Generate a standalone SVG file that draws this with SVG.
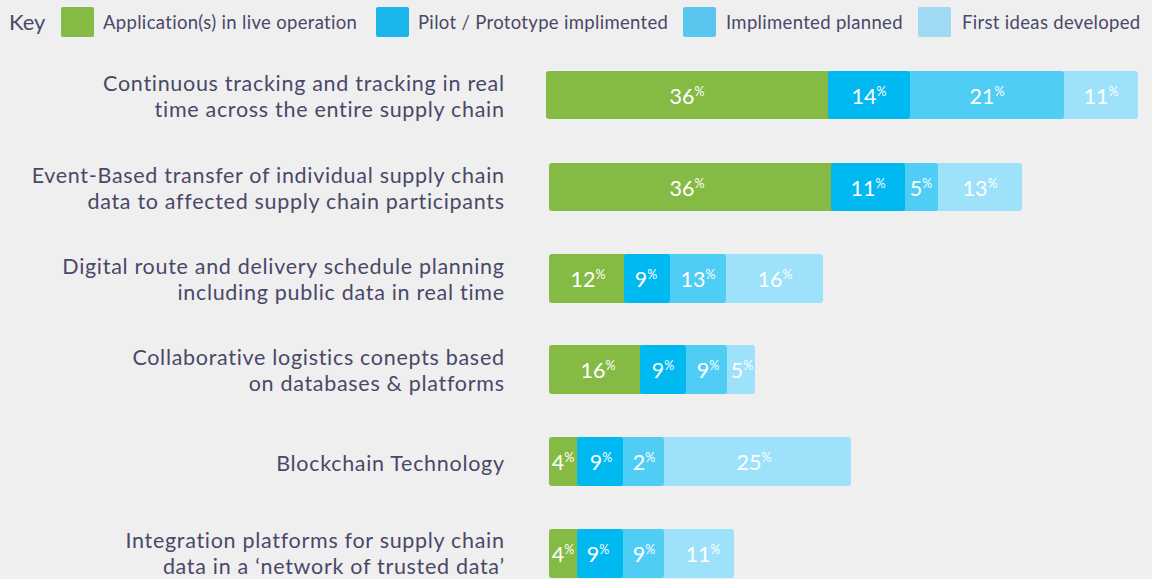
<svg xmlns="http://www.w3.org/2000/svg" width="1152" height="579" viewBox="0 0 1152 579">
<style>
.lbl{font-family:Lato,"Open Sans",sans-serif;font-size:21.5px;letter-spacing:0.7px;fill:#4a4868;text-anchor:end}
.key{font-family:Lato,"Open Sans",sans-serif;font-size:18.5px;letter-spacing:0.32px;fill:#4a4868}
.pct{font-family:Lato,"Open Sans",sans-serif;font-size:21.5px;fill:#ffffff;text-anchor:middle}
.sup{font-size:12.5px}
.g{fill:#85bb45}.b{fill:#00b9f1}.m{fill:#4fcdf5}.l{fill:#9de2fa}
.kg{fill:#86bc45}.kb{fill:#1ab5eb}.km{fill:#58c6ee}.kl{fill:#a0d9f3}
</style>
<rect width="1152" height="579" fill="#efefef"/>
<g id="key">
<text class="key" x="9" y="30" style="font-size:22px;letter-spacing:0">Key</text>
<rect class="kg" x="61" y="7" width="33" height="30" rx="2"/>
<text class="key" x="103" y="29">Application(s) in live operation</text>
<rect class="kb" x="376" y="7" width="33" height="30" rx="2"/>
<text class="key" x="418" y="29">Pilot / Prototype implimented</text>
<rect class="km" x="683" y="7" width="33" height="30" rx="2"/>
<text class="key" x="726" y="29">Implimented planned</text>
<rect class="kl" x="918" y="7" width="33" height="30" rx="2"/>
<text class="key" x="962" y="29">First ideas developed</text>
</g>
<g id="row1">
<text class="lbl" x="504.7" y="91">Continuous tracking and tracking in real</text>
<text class="lbl" x="504.7" y="117">time across the entire supply chain</text>
<rect class="l" x="1060" y="71" width="78" height="48" rx="3"/>
<rect class="m" x="900" y="71" width="164" height="48" rx="3"/>
<rect class="g" x="546" y="71" width="290" height="48" rx="3"/>
<rect class="b" x="828" y="71" width="82" height="48" rx="3"/>
<text class="pct" x="687" y="104">36<tspan class="sup" dy="-8">%</tspan></text>
<text class="pct" x="869" y="104">14<tspan class="sup" dy="-8">%</tspan></text>
<text class="pct" x="987" y="104">21<tspan class="sup" dy="-8">%</tspan></text>
<text class="pct" x="1101" y="104">11<tspan class="sup" dy="-8">%</tspan></text>
</g>
<g id="row2">
<text class="lbl" x="504.7" y="183">Event-Based transfer of individual supply chain</text>
<text class="lbl" x="504.7" y="209">data to affected supply chain participants</text>
<rect class="l" x="934" y="163" width="88" height="48" rx="3"/>
<rect class="m" x="895" y="163" width="43" height="48" rx="3"/>
<rect class="g" x="549" y="163" width="290" height="48" rx="3"/>
<rect class="b" x="831" y="163" width="74" height="48" rx="3"/>
<text class="pct" x="687" y="196">36<tspan class="sup" dy="-8">%</tspan></text>
<text class="pct" x="868" y="196">11<tspan class="sup" dy="-8">%</tspan></text>
<text class="pct" x="921" y="196">5<tspan class="sup" dy="-8">%</tspan></text>
<text class="pct" x="980" y="196">13<tspan class="sup" dy="-8">%</tspan></text>
</g>
<g id="row3">
<text class="lbl" x="504.7" y="274">Digital route and delivery schedule planning</text>
<text class="lbl" x="504.7" y="300">including public data in real time</text>
<rect class="l" x="722" y="254" width="101" height="49" rx="3"/>
<rect class="m" x="660" y="254" width="66" height="49" rx="3"/>
<rect class="g" x="549" y="254" width="83" height="49" rx="3"/>
<rect class="b" x="624" y="254" width="46" height="49" rx="3"/>
<text class="pct" x="588" y="287">12<tspan class="sup" dy="-8">%</tspan></text>
<text class="pct" x="646" y="287">9<tspan class="sup" dy="-8">%</tspan></text>
<text class="pct" x="698" y="287">13<tspan class="sup" dy="-8">%</tspan></text>
<text class="pct" x="775" y="287">16<tspan class="sup" dy="-8">%</tspan></text>
</g>
<g id="row4">
<text class="lbl" x="504.7" y="365">Collaborative logistics conepts based</text>
<text class="lbl" x="504.7" y="391">on databases &amp; platforms</text>
<rect class="l" x="723" y="345" width="32" height="49" rx="3"/>
<rect class="m" x="676" y="345" width="51" height="49" rx="3"/>
<rect class="g" x="549" y="345" width="99" height="49" rx="3"/>
<rect class="b" x="640" y="345" width="46" height="49" rx="3"/>
<text class="pct" x="598" y="378">16<tspan class="sup" dy="-8">%</tspan></text>
<text class="pct" x="663" y="378">9<tspan class="sup" dy="-8">%</tspan></text>
<text class="pct" x="708" y="378">9<tspan class="sup" dy="-8">%</tspan></text>
<text class="pct" x="742" y="378">5<tspan class="sup" dy="-8">%</tspan></text>
</g>
<g id="row5">
<text class="lbl" x="504.7" y="471">Blockchain Technology</text>
<rect class="l" x="660" y="437" width="191" height="49" rx="3"/>
<rect class="m" x="613" y="437" width="51" height="49" rx="3"/>
<rect class="g" x="549" y="437" width="36" height="49" rx="3"/>
<rect class="b" x="577" y="437" width="46" height="49" rx="3"/>
<text class="pct" x="563" y="470">4<tspan class="sup" dy="-8">%</tspan></text>
<text class="pct" x="601" y="470">9<tspan class="sup" dy="-8">%</tspan></text>
<text class="pct" x="644" y="470">2<tspan class="sup" dy="-8">%</tspan></text>
<text class="pct" x="754" y="470">25<tspan class="sup" dy="-8">%</tspan></text>
</g>
<g id="row6">
<text class="lbl" x="504.7" y="548">Integration platforms for supply chain</text>
<text class="lbl" x="504.7" y="574">data in a ‘network of trusted data’</text>
<rect class="l" x="660" y="529" width="74" height="49" rx="3"/>
<rect class="m" x="613" y="529" width="51" height="49" rx="3"/>
<rect class="g" x="549" y="529" width="36" height="49" rx="3"/>
<rect class="b" x="577" y="529" width="46" height="49" rx="3"/>
<text class="pct" x="563" y="562">4<tspan class="sup" dy="-8">%</tspan></text>
<text class="pct" x="598" y="562">9<tspan class="sup" dy="-8">%</tspan></text>
<text class="pct" x="644" y="562">9<tspan class="sup" dy="-8">%</tspan></text>
<text class="pct" x="703" y="562">11<tspan class="sup" dy="-8">%</tspan></text>
</g>
<g id="connectors"/>
</svg>
